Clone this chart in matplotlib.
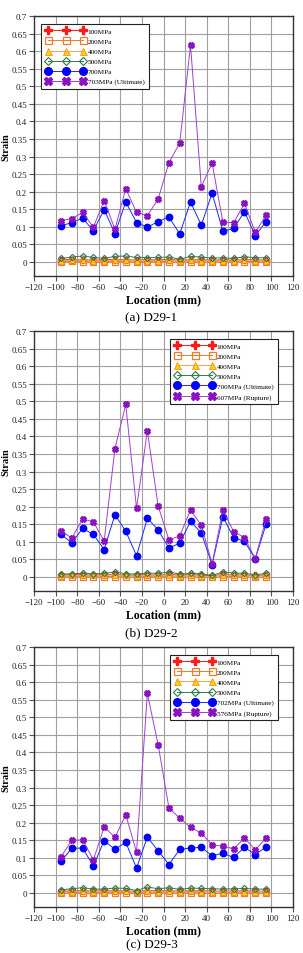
import numpy as np
import matplotlib
matplotlib.use("Agg")
import matplotlib.pyplot as plt

plt.rcParams['font.family'] = ['Liberation Serif', 'DejaVu Serif']

# gauge locations (mm)
location = [-95, -85, -75, -65, -55, -45, -35, -25, -15, -5,
            5, 15, 25, 35, 45, 55, 65, 75, 85, 95]

# ---- (a) D29-1 ----
a_100 = [0.006, 0.007, 0.006, 0.005, 0.006, 0.007, 0.006, 0.005, 0.006, 0.006,
         0.007, 0.005, 0.006, 0.006, 0.005, 0.006, 0.005, 0.006, 0.006, 0.005]
a_200 = [0.001, 0.002, 0.001, 0.000, 0.001, 0.001, 0.001, 0.000, 0.001, 0.001,
         0.001, 0.000, 0.001, 0.000, 0.000, 0.001, 0.000, 0.001, 0.001, 0.000]
a_400 = [0.004, 0.005, 0.006, 0.004, 0.003, 0.005, 0.005, 0.004, 0.004, 0.004,
         0.005, 0.003, 0.005, 0.004, 0.003, 0.004, 0.003, 0.005, 0.004, 0.004]
a_500 = [0.010, 0.014, 0.017, 0.013, 0.010, 0.016, 0.017, 0.013, 0.012, 0.013,
         0.014, 0.008, 0.016, 0.014, 0.011, 0.012, 0.010, 0.015, 0.012, 0.012]
a_700 = [0.103, 0.112, 0.125, 0.089, 0.149, 0.081, 0.171, 0.112, 0.099, 0.115,
         0.128, 0.080, 0.171, 0.105, 0.196, 0.087, 0.096, 0.143, 0.075, 0.115]
a_last = [0.118, 0.123, 0.141, 0.099, 0.175, 0.093, 0.209, 0.141, 0.132, 0.179,
          0.283, 0.338, 0.617, 0.214, 0.282, 0.113, 0.112, 0.167, 0.084, 0.134]
a_labels = ['100MPa', '200MPa', '400MPa', '500MPa', '700MPa', '703MPa (Ultimate)']

# ---- (b) D29-2 ----
b_100 = [0.005, 0.006, 0.006, 0.005, 0.006, 0.007, 0.005, 0.005, 0.006, 0.005,
         0.007, 0.005, 0.006, 0.005, 0.003, 0.007, 0.006, 0.005, 0.004, 0.005]
b_200 = [0.000, 0.001, 0.001, 0.000, 0.001, 0.001, 0.000, 0.000, 0.001, 0.000,
         0.001, 0.000, 0.000, 0.000, -0.001, 0.001, 0.001, 0.000, 0.000, 0.000]
b_400 = [0.003, 0.004, 0.004, 0.004, 0.004, 0.006, 0.004, 0.003, 0.005, 0.004,
         0.006, 0.003, 0.004, 0.003, 0.001, 0.006, 0.005, 0.004, 0.002, 0.004]
b_500 = [0.008, 0.009, 0.010, 0.009, 0.010, 0.014, 0.009, 0.008, 0.011, 0.010,
         0.014, 0.008, 0.010, 0.009, 0.004, 0.014, 0.011, 0.010, 0.006, 0.010]
b_700 = [0.121, 0.097, 0.138, 0.121, 0.078, 0.177, 0.130, 0.060, 0.167, 0.134,
         0.082, 0.096, 0.158, 0.125, 0.035, 0.171, 0.112, 0.101, 0.051, 0.150]
b_last = [0.132, 0.110, 0.165, 0.157, 0.102, 0.365, 0.491, 0.195, 0.416, 0.202,
          0.105, 0.117, 0.190, 0.147, 0.038, 0.190, 0.129, 0.112, 0.052, 0.166]
b_labels = ['100MPa', '200MPa', '400MPa', '500MPa', '700MPa (Ultimate)', '607MPa (Rupture)']

# ---- (c) D29-3 ----
c_100 = [0.005, 0.006, 0.006, 0.005, 0.006, 0.006, 0.006, 0.004, 0.007, 0.006,
         0.006, 0.005, 0.006, 0.006, 0.005, 0.005, 0.005, 0.006, 0.005, 0.005]
c_200 = [0.000, 0.001, 0.001, 0.000, 0.001, 0.001, 0.001, 0.000, 0.001, 0.000,
         0.001, 0.000, 0.001, 0.000, 0.000, 0.000, 0.000, 0.001, 0.000, 0.000]
c_400 = [0.003, 0.004, 0.005, 0.004, 0.004, 0.005, 0.005, 0.002, 0.006, 0.004,
         0.005, 0.003, 0.005, 0.004, 0.004, 0.004, 0.004, 0.004, 0.004, 0.003]
c_500 = [0.009, 0.012, 0.015, 0.011, 0.011, 0.014, 0.013, 0.007, 0.017, 0.012,
         0.015, 0.010, 0.014, 0.013, 0.012, 0.011, 0.012, 0.013, 0.011, 0.011]
c_700 = [0.090, 0.127, 0.128, 0.077, 0.149, 0.124, 0.144, 0.071, 0.159, 0.120,
         0.081, 0.124, 0.128, 0.130, 0.106, 0.113, 0.101, 0.130, 0.109, 0.131]
c_last = [0.103, 0.150, 0.151, 0.094, 0.188, 0.158, 0.223, 0.116, 0.568, 0.422,
          0.242, 0.213, 0.187, 0.170, 0.137, 0.133, 0.126, 0.156, 0.123, 0.156]
c_labels = ['100MPa', '200MPa', '400MPa', '500MPa', '702MPa (Ultimate)', '576MPa (Rupture)']

captions = ['(a) D29-1', '(b) D29-2', '(c) D29-3']

# marker / line styles for the six load levels
styles = [
    dict(color='#ff1a1a', marker='P', ms=4.5, mfc='#ff1a1a', mec='#ff1a1a', lw=0.7),
    dict(color='#ee7a2a', marker='s', ms=4.2, mfc='none', mec='#ee7a2a', mew=0.9, lw=0.7),
    dict(color='#f0a050', marker='^', ms=4.2, mfc='#ffd000', mec='#f08020', mew=0.5, lw=0.7),
    dict(color='#2f7a4a', marker='D', ms=3.2, mfc='none', mec='#2f7a4a', mew=0.8, lw=0.7),
    dict(color='#1a2aff', marker='o', ms=4.6, mfc='#0000ff', mec='#0000ff', lw=0.7),
    dict(color='#a040d0', marker='X', ms=4.3, mfc='#8a10c0', mec='#8a10c0', lw=0.7),
]

panels = [
    ([a_100, a_200, a_400, a_500, a_700, a_last], a_labels, 0.7096, 'upper left', (0.015, 0.985)),
    ([b_100, b_200, b_400, b_500, b_700, b_last], b_labels, 0.3795, 'upper right', (0.955, 0.985)),
    ([c_100, c_200, c_400, c_500, c_700, c_last], c_labels, 0.0482, 'upper right', (0.955, 0.985)),
]

fig = plt.figure(figsize=(3.03, 9.54), dpi=100)

for k, (series, labels, bottom, loc, anchor) in enumerate(panels):
    ax = fig.add_axes([0.1122, bottom, 0.855, 0.2725])
    for vals, lab, st in zip(series, labels, styles):
        ax.plot(location, vals, label=lab, **st)

    ax.set_xlim(-120, 120)
    ax.set_ylim(-0.04, 0.7)
    ax.set_xticks(np.arange(-120, 121, 20))
    ax.set_yticks(np.arange(0, 0.701, 0.05))
    ax.set_yticklabels(['%g' % round(v, 2) for v in np.arange(0, 0.701, 0.05)])
    ax.grid(True, color='#a0a0a0', linewidth=0.8)
    ax.set_axisbelow(True)
    for sp in ax.spines.values():
        sp.set_color('#333333')
        sp.set_linewidth(1.0)
    ax.tick_params(labelsize=6.5, length=3.5, direction='out', colors='#555555',
                   labelcolor='#222222', pad=1.5)

    ax.set_ylabel('Strain', fontsize=7.5, fontweight='bold')
    ax.yaxis.set_label_coords(-0.092, 0.5)
    ax.set_xlabel('Location (mm)', fontsize=8.5, fontweight='bold', labelpad=2)

    leg = ax.legend(loc=loc, bbox_to_anchor=anchor, fontsize=5.2, numpoints=3,
                    handlelength=5.5, handletextpad=0.3, borderpad=0.6,
                    labelspacing=0.55, fancybox=False, framealpha=1,
                    edgecolor='#222222', markerscale=1.2)
    leg.get_frame().set_linewidth(0.8)

    fig.text(0.5, max(bottom - 0.043, 0.0095), captions[k], ha='center', va='center',
             fontsize=9.5)

fig.savefig('out.png', dpi=100)
